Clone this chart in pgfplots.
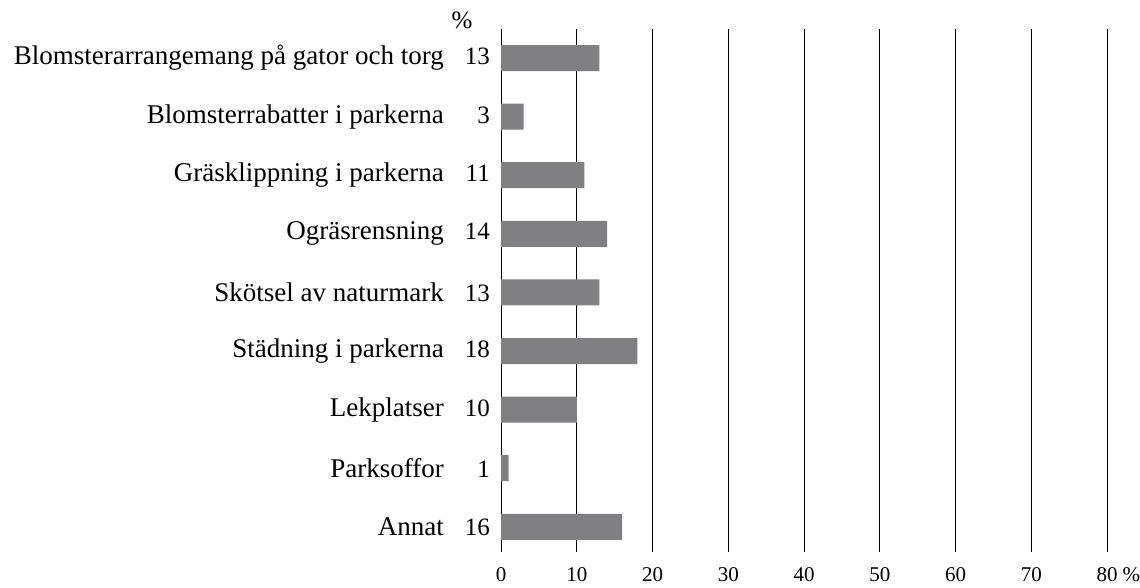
\documentclass[border=0pt]{standalone}
\usepackage{pgfplots}
\pgfplotsset{compat=1.18}
\usepackage{fontspec}
\setmainfont{Liberation Serif}
\definecolor{bargray}{RGB}{128,128,131}
\newcommand{\cat}[2]{#1\hspace{21pt}\makebox[25pt][r]{\fontsize{25}{28}\selectfont #2}}
\begin{document}
\begin{tikzpicture}
\useasboundingbox (0,0) rectangle (1140pt,587pt);
\begin{axis}[
  at={(501pt,35pt)}, anchor=south west,
  scale only axis,
  width=606pt, height=523pt,
  xbar, bar width=26pt,
  xmin=0, xmax=80,
  ymin=-0.495, ymax=8.43,
  y dir=reverse,
  axis line style={draw=none},
  xmajorgrids,
  grid style={black, line width=1pt},
  major tick length=0pt,
  xtick={0,10,...,80},
  xticklabels={0,10,20,30,40,50,60,70,80\rlap{ \%}},
  xticklabel style={font=\fontsize{21}{24}\selectfont, yshift=-12pt},
  ytick={0,...,8},
  yticklabels={
    \cat{Blomsterarrangemang på gator och torg}{13},
    \cat{Blomsterrabatter i parkerna}{3},
    \cat{Gräsklippning i parkerna}{11},
    \cat{Ogräsrensning}{14},
    \cat{Skötsel av naturmark}{13},
    \cat{Städning i parkerna}{18},
    \cat{Lekplatser}{10},
    \cat{Parksoffor}{1},
    \cat{Annat}{16}},
  yticklabel style={font=\fontsize{27}{30}\selectfont, anchor=east, inner sep=0pt, xshift=-11pt},
]
\addplot[fill=bargray, draw=none] coordinates {
  (13,0) (3,1) (11,2) (14,3) (13,4) (18,5) (10,6) (1,7) (16,8)};
\end{axis}
\node[font=\fontsize{25}{28}\selectfont, inner sep=0pt] at (462pt,567pt) {\%};
\end{tikzpicture}
\end{document}
